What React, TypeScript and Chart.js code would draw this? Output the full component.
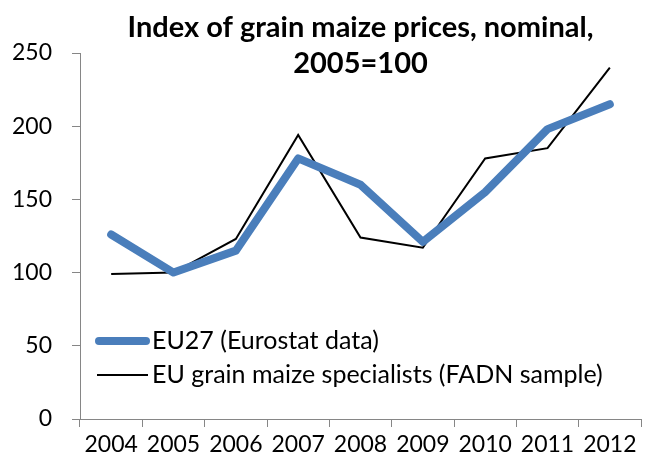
import React, { useEffect, useRef } from "react";
import { Chart, registerables } from "chart.js";

Chart.register(...registerables);

const years = ["2004", "2005", "2006", "2007", "2008", "2009", "2010", "2011", "2012"];
const eu27 = [126, 100, 115, 178, 160, 121, 155, 198, 215];
const fadn = [99, 100, 123, 194, 124, 117, 178, 185, 240];
const seriesNames = ["EU27 (Eurostat data)", "EU grain maize specialists (FADN sample)"];
const titleLines = ["Index of grain maize prices, nominal,", "2005=100"];

const FONT = "Lato, 'Open Sans', sans-serif";

const overlayPlugin = {
  id: "overlay",
  afterDraw(chart: any) {
    const { ctx, chartArea } = chart;
    ctx.save();
    const cx = (chartArea.left + chartArea.right) / 2;
    ctx.fillStyle = "#000";
    ctx.font = `bold 29px ${FONT}`;
    ctx.textAlign = "center";
    ctx.textBaseline = "middle";
    ctx.fillText(titleLines[0], cx, 28);
    ctx.fillText(titleLines[1], cx, 64);
    const ds = chart.data.datasets;
    const rows = [341, 375];
    ds.forEach((d: any, i: number) => {
      const y = rows[i];
      ctx.beginPath();
      ctx.strokeStyle = d.borderColor;
      ctx.lineWidth = d.borderWidth;
      ctx.lineCap = i === 0 ? "round" : "butt";
      ctx.moveTo(i === 0 ? 99 : 97, y);
      ctx.lineTo(i === 0 ? 146 : 148, y);
      ctx.stroke();
      ctx.fillStyle = "#000";
      ctx.font = `25px ${FONT}`;
      ctx.textAlign = "left";
      ctx.textBaseline = "middle";
      ctx.fillText(d.label, 152, y);
    });
    ctx.restore();
  },
};

export default function App() {
  const ref = useRef<HTMLCanvasElement>(null);
  useEffect(() => {
    document.body.style.margin = "0";
    const chart = new Chart(ref.current!, {
      type: "line",
      data: {
        labels: years,
        datasets: [
          {
            label: seriesNames[0],
            data: eu27,
            borderColor: "#4a7ebb",
            borderWidth: 8,
            borderCapStyle: "round",
            borderJoinStyle: "round",
            pointRadius: 0,
            tension: 0,
          },
          {
            label: seriesNames[1],
            data: fadn,
            borderColor: "#000000",
            borderWidth: 2,
            pointRadius: 0,
            tension: 0,
          },
        ],
      },
      options: {
        animation: false,
        responsive: false,
        layout: { padding: { top: 53, right: 5, left: 0, bottom: 0 } },
        plugins: { legend: { display: false }, title: { display: false }, tooltip: { enabled: false } },
        scales: {
          x: {
            offset: true,
            grid: {
              offset: true,
              drawOnChartArea: false,
              drawTicks: true,
              tickLength: 8,
              color: "#868686",
            },
            border: { color: "#868686", width: 1 },
            ticks: { color: "#000", font: { family: FONT, size: 23 }, padding: 4, maxRotation: 0, autoSkip: false },
            afterFit(scale: any) {
              scale.height = 46;
            },
          },
          y: {
            min: 0,
            max: 250,
            grid: { drawOnChartArea: false, tickLength: 8, color: "#868686" },
            border: { color: "#868686", width: 1 },
            ticks: { stepSize: 50, color: "#000", font: { family: FONT, size: 23 }, padding: 20 },
            afterFit(scale: any) {
              scale.width = 80;
            },
          },
        },
      },
      plugins: [overlayPlugin],
    });
    return () => chart.destroy();
  }, []);
  return <canvas ref={ref} width={646} height={465} style={{ display: "block" }} />;
}
